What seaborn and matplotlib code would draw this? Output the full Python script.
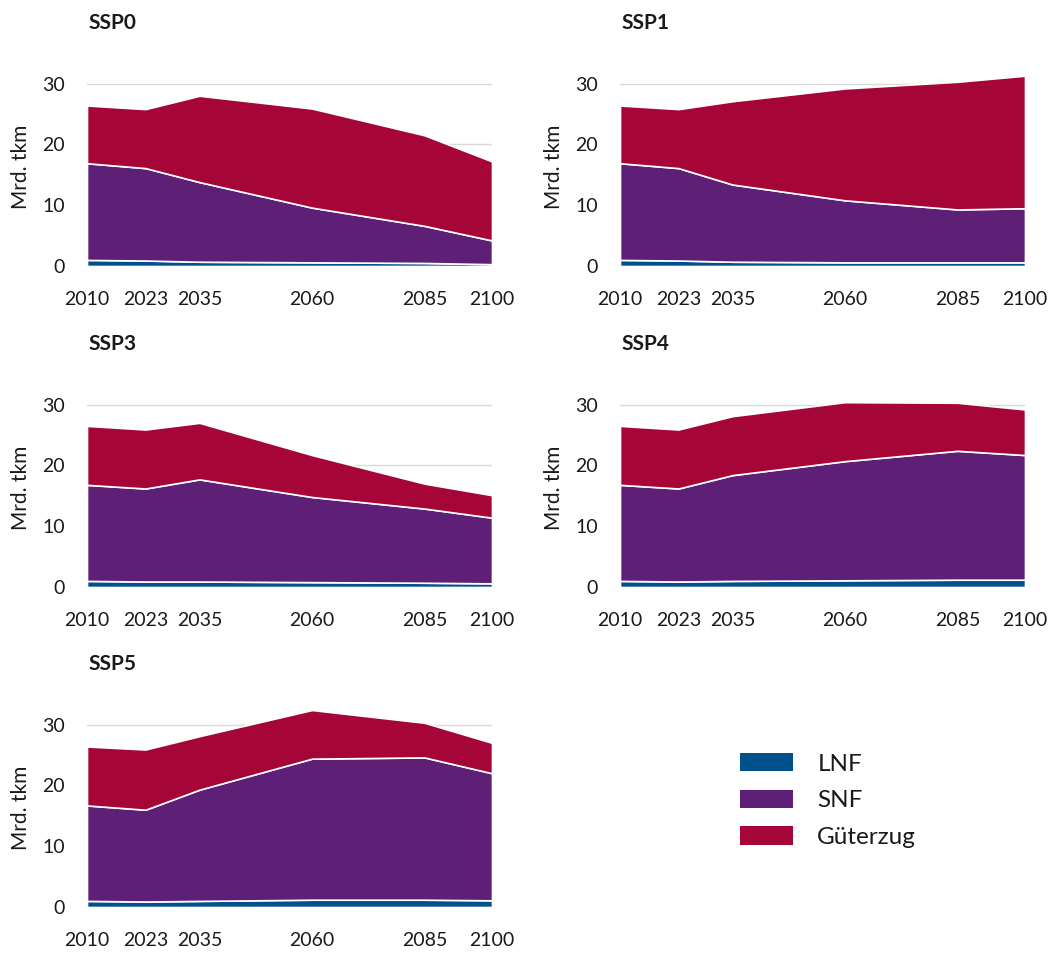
import matplotlib
matplotlib.use("Agg")
import matplotlib.pyplot as plt
from matplotlib.patches import Patch
import seaborn as sns
import numpy as np

# ---------------- data ----------------
years = [2010, 2023, 2035, 2060, 2085, 2100]
scenarios = ["SSP0", "SSP1", "SSP3", "SSP4", "SSP5"]
series_names = ["LNF", "SNF", "Güterzug"]

# LNF values (Mrd. tkm)
lnf_ssp0 = [1.0, 0.9, 0.7, 0.6, 0.5, 0.3]
lnf_ssp1 = [1.0, 0.9, 0.7, 0.6, 0.6, 0.6]
lnf_ssp3 = [1.0, 0.9, 0.9, 0.8, 0.7, 0.6]
lnf_ssp4 = [1.0, 0.9, 1.0, 1.1, 1.2, 1.2]
lnf_ssp5 = [1.0, 0.9, 1.0, 1.2, 1.2, 1.1]

# SNF values (Mrd. tkm)
snf_ssp0 = [15.9, 15.2, 13.1, 9.0, 6.1, 3.9]
snf_ssp1 = [15.9, 15.2, 12.7, 10.2, 8.7, 8.9]
snf_ssp3 = [15.8, 15.3, 16.8, 14.0, 12.2, 10.8]
snf_ssp4 = [15.8, 15.3, 17.4, 19.6, 21.2, 20.5]
snf_ssp5 = [15.7, 15.1, 18.3, 23.2, 23.4, 20.9]

# Güterzug values (Mrd. tkm)
gz_ssp0 = [9.5, 9.7, 14.2, 16.3, 14.9, 13.0]
gz_ssp1 = [9.5, 9.7, 13.7, 18.4, 21.0, 21.8]
gz_ssp3 = [9.7, 9.7, 9.3, 6.9, 4.1, 3.7]
gz_ssp4 = [9.7, 9.7, 9.7, 9.7, 7.9, 7.5]
gz_ssp5 = [9.7, 9.9, 8.8, 8.0, 5.7, 5.0]

lnf = {"SSP0": lnf_ssp0, "SSP1": lnf_ssp1, "SSP3": lnf_ssp3, "SSP4": lnf_ssp4, "SSP5": lnf_ssp5}
snf = {"SSP0": snf_ssp0, "SSP1": snf_ssp1, "SSP3": snf_ssp3, "SSP4": snf_ssp4, "SSP5": snf_ssp5}
gz = {"SSP0": gz_ssp0, "SSP1": gz_ssp1, "SSP3": gz_ssp3, "SSP4": gz_ssp4, "SSP5": gz_ssp5}

y_ticks = [0, 10, 20, 30]
y_label = "Mrd. tkm"

# ---------------- style ----------------
sns.set_theme(style="white")
plt.rcParams["font.family"] = ["Lato", "DejaVu Sans"]

colors = ["#00508C", "#5E2077", "#A60537"]
text_color = "#1a1a1a"

W, H = 1061, 955
fig = plt.figure(figsize=(W / 100, H / 100), dpi=100)

ax_w = 405
px_per_unit = 6.08
ymax = 34
ax_h = ymax * px_per_unit
placements = {
    "SSP0": (87, 266),
    "SSP1": (620, 266),
    "SSP3": (87, 587),
    "SSP4": (620, 587),
    "SSP5": (87, 907),
}

for name in scenarios:
    left, zero_y = placements[name]
    ax = fig.add_axes([left / W, 1 - zero_y / H, ax_w / W, ax_h / H])
    ax.set_axisbelow(True)
    ax.yaxis.grid(True, color="#d9d9d9", linewidth=1.0)
    ax.xaxis.grid(False)
    ax.stackplot(years, lnf[name], snf[name], gz[name], colors=colors,
                 edgecolor="white", linewidth=1.2, zorder=2)
    ax.set_xlim(2010, 2100)
    ax.set_ylim(0, ymax)
    ax.set_xticks(years)
    ax.set_xticklabels([str(y) for y in years])
    ax.set_yticks(y_ticks)
    ax.tick_params(axis="y", length=0, pad=16, labelsize=14, labelcolor=text_color)
    ax.tick_params(axis="x", length=0, pad=18, labelsize=14, labelcolor=text_color)
    for s in ax.spines.values():
        s.set_visible(False)
    ax.set_ylabel(y_label, fontsize=15, color=text_color)
    ax.yaxis.set_label_coords(-56 / ax_w, 0.5 * 30 / ymax + 0.04)
    fig.text((left + 1) / W, 1 - (zero_y - 243) / H, name, fontsize=15,
             fontweight="bold", color=text_color, va="center", ha="left")

handles = [Patch(facecolor=c, edgecolor="none") for c in colors]
fig.legend(handles, series_names, loc="upper left",
           bbox_to_anchor=(740 / W, 1 - 753 / H), frameon=False,
           fontsize=17.5, handlelength=2.18, handleheight=0.78,
           handletextpad=1.0, labelspacing=0.62, borderpad=0, borderaxespad=0,
           labelcolor=text_color)

fig.savefig("out.png", dpi=100)
